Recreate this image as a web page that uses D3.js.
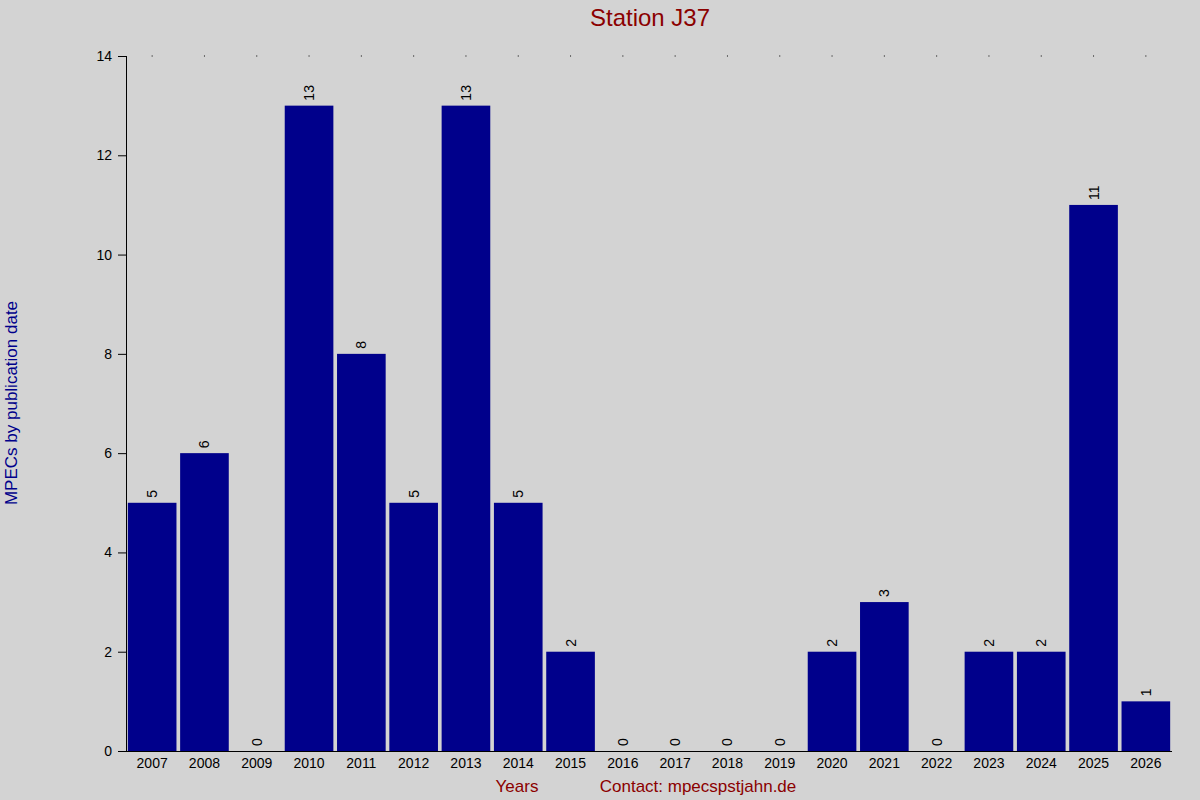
<!DOCTYPE html><html><head><script src="https://cdn.jsdelivr.net/npm/d3@7"></script>
<style>body{margin:0;background:#d3d3d3}</style></head><body><svg width="1200" height="800"></svg><script>
const years=["2007","2008","2009","2010","2011","2012","2013","2014","2015","2016","2017","2018","2019","2020","2021","2022","2023","2024","2025","2026"];
const counts=[5,6,0,13,8,5,13,5,2,0,0,0,0,2,3,0,2,2,11,1];
const yTicks=[0,2,4,6,8,10,12,14];
const svg=d3.select("svg");
svg.append("rect").attr("width",1200).attr("height",800).attr("fill","#d3d3d3");
const x=d3.scaleBand().domain(years).range([126,1172]).paddingInner(0.07).paddingOuter(0.035);
const y=d3.scaleLinear().domain([0,14]).range([751,56]);
const F="Liberation Sans, Arial, sans-serif";
svg.selectAll(".b").data(years).enter().append("rect").attr("x",d=>x(d)).attr("width",x.bandwidth())
 .attr("y",(d,i)=>y(counts[i])).attr("height",(d,i)=>y(0)-y(counts[i])).attr("fill","#00008b");
svg.selectAll(".v").data(years).enter().append("text").attr("transform",(d,i)=>`translate(${x(d)+x.bandwidth()/2+5},${y(counts[i])-5}) rotate(-90)`)
 .text((d,i)=>counts[i]).attr("font-family",F).attr("font-size",14).attr("fill","#000");
svg.selectAll(".dot").data(years).enter().append("rect").attr("x",d=>x(d)+x.bandwidth()/2-0.5).attr("y",55.5).attr("width",1).attr("height",1).attr("fill","#000");
const ya=svg.append("g").attr("transform","translate(126,0)").call(d3.axisLeft(y).tickValues(yTicks).tickSize(8).tickSizeOuter(0).tickPadding(6));
const xa=svg.append("g").attr("transform","translate(0,751)").call(d3.axisBottom(x).tickSize(0).tickPadding(7));
xa.select(".domain").attr("d","M126,0.5H1172");
ya.select(".domain").attr("d","M0.5,56V751");
[ya,xa].forEach(a=>{a.selectAll("text").attr("font-family",F).attr("font-size",14).attr("fill","#000");a.selectAll("path,line").attr("stroke","#000");});
svg.append("text").attr("x",650).attr("y",26).attr("text-anchor","middle").attr("font-family",F).attr("font-size",24).attr("fill","#8b0000").text("Station J37");
svg.append("text").attr("x",517).attr("y",792).attr("text-anchor","middle").attr("font-family",F).attr("font-size",17).attr("fill","#8b0000").text("Years");
svg.append("text").attr("x",698).attr("y",792).attr("text-anchor","middle").attr("font-family",F).attr("font-size",17).attr("fill","#8b0000").text("Contact: mpecspstjahn.de");
svg.append("text").attr("transform","translate(17,403) rotate(-90)").attr("text-anchor","middle").attr("font-family",F).attr("font-size",17).attr("fill","#00008b").text("MPECs by publication date");
</script></body></html>
